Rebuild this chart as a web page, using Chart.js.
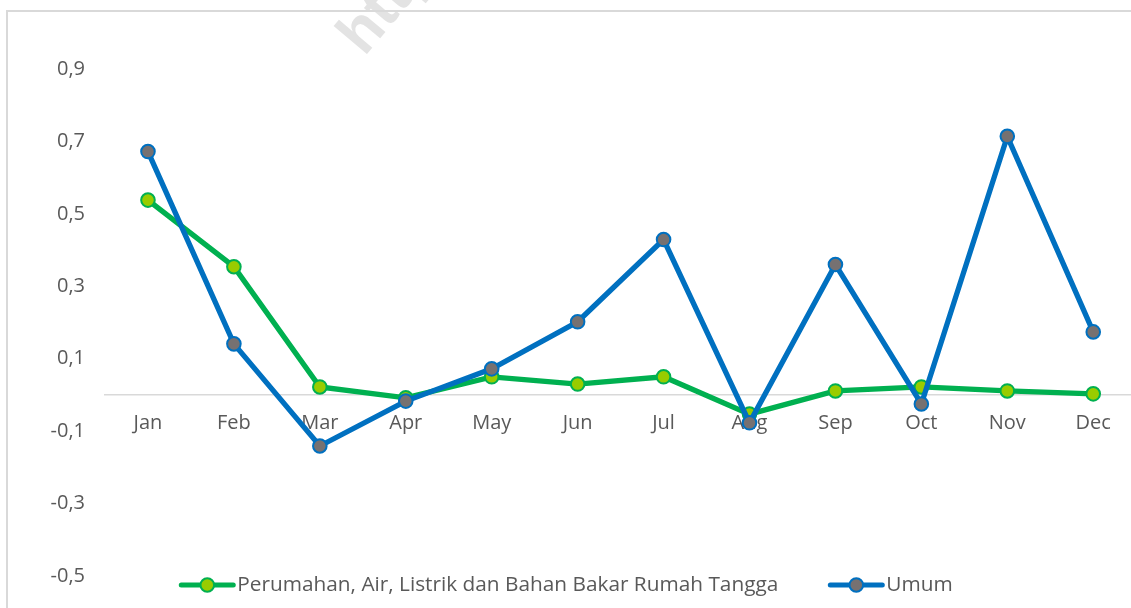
<!DOCTYPE html>
<html>
<head>
<meta charset="utf-8">
<script src="https://cdn.jsdelivr.net/npm/chart.js@4.4.1/dist/chart.umd.min.js"></script>
<style>
  html, body { margin: 0; padding: 0; background: #ffffff; overflow: hidden; }
  #wrap { position: relative; width: 1131px; height: 608px; overflow: hidden; }
  #wm { position: absolute; left: 326px; top: 25px; font: bold 60px "Liberation Sans", Arial, sans-serif;
        line-height: 1; color: #e3e3e3; transform: rotate(-50deg); transform-origin: 0 0; white-space: nowrap; }
  #box { position: absolute; left: 0; top: 0; width: 1145px; height: 608px; }
  #frame { position: absolute; left: 6px; top: 10px; width: 1200px; height: 700px;
           border-left: 2px solid #d9d9d9; border-top: 2px solid #d9d9d9; pointer-events: none; }
</style>
</head>
<body>
<div id="wrap">
  <div id="wm">http://</div>
  <div id="box"><canvas id="c" width="1145" height="608"></canvas></div>
  <div id="frame"></div>
</div>
<script>
// ---- data ----
const months = ['Jan','Feb','Mar','Apr','May','Jun','Jul','Aug','Sep','Oct','Nov','Dec'];
const perumahan = [0.538, 0.354, 0.022, -0.008, 0.050, 0.030, 0.050, -0.053, 0.011, 0.022, 0.011, 0.003];
const umum = [0.672, 0.141, -0.141, -0.017, 0.072, 0.202, 0.429, -0.077, 0.360, -0.025, 0.714, 0.174];
const yTicks = [-0.5, -0.3, -0.1, 0.1, 0.3, 0.5, 0.7, 0.9];
const seriesNames = ['Perumahan, Air, Listrik dan Bahan Bakar Rumah Tangga', 'Umum'];

const FONT = '"Open Sans", "Noto Sans", sans-serif';
const TXT = '#595959';

// custom legend (line + marker symbol, Excel style)
const excelLegend = {
  id: 'excelLegend',
  afterDraw(chart) {
    const ctx = chart.ctx;
    const order = [1, 0]; // Perumahan first, then Umum
    const symW = 56, gapText = 2, gapItem = 50, cy = 585, centerX = 566;
    ctx.save();
    ctx.font = '20.8px ' + FONT;
    ctx.textBaseline = 'middle';
    ctx.textAlign = 'left';
    const widths = order.map(i => symW + gapText + ctx.measureText(chart.data.datasets[i].label).width);
    const total = widths.reduce((a, b) => a + b, 0) + gapItem * (order.length - 1);
    let x = centerX - total / 2;
    order.forEach((i, k) => {
      const ds = chart.data.datasets[i];
      ctx.strokeStyle = ds.borderColor;
      ctx.lineWidth = 5;
      ctx.lineCap = 'round';
      ctx.beginPath(); ctx.moveTo(x + 2, cy); ctx.lineTo(x + symW - 2, cy); ctx.stroke();
      ctx.beginPath(); ctx.arc(x + symW / 2, cy, 6.8, 0, Math.PI * 2);
      ctx.fillStyle = ds.pointBackgroundColor; ctx.fill();
      ctx.lineWidth = 2; ctx.strokeStyle = ds.pointBorderColor; ctx.stroke();
      ctx.fillStyle = TXT;
      ctx.fillText(ds.label, x + symW + gapText, cy);
      x += widths[k] + gapItem;
    });
    ctx.restore();
  }
};

new Chart(document.getElementById('c'), {
  type: 'line',
  data: {
    labels: months,
    datasets: [
      {
        label: seriesNames[1], data: umum,
        borderColor: '#0070C0', borderWidth: 5.3, tension: 0,
        pointRadius: 6.8, pointBorderWidth: 2,
        pointBackgroundColor: '#767171', pointBorderColor: '#0070C0'
      },
      {
        label: seriesNames[0], data: perumahan,
        borderColor: '#00B050', borderWidth: 5.3, tension: 0,
        pointRadius: 6.8, pointBorderWidth: 2,
        pointBackgroundColor: '#99CC00', pointBorderColor: '#00B050'
      }
    ]
  },
  options: {
    responsive: false,
    animation: false,
    layout: { padding: { top: 69, bottom: 31, left: 0, right: 4 } },
    plugins: { legend: { display: false }, tooltip: { enabled: false } },
    scales: {
      x: {
        position: { y: 0 },
        offset: true,
        grid: { display: false, drawTicks: false },
        border: { display: true, color: '#d9d9d9', width: 1.5 },
        ticks: { color: TXT, font: { family: FONT, size: 20 }, padding: 16, maxRotation: 0, autoSkip: false }
      },
      y: {
        min: yTicks[0], max: yTicks[yTicks.length - 1],
        afterBuildTicks: (s) => { s.ticks = yTicks.map(v => ({ value: v })); },
        afterFit: (s) => { s.width = 105; },
        grid: { display: false, drawTicks: false },
        border: { display: false },
        ticks: {
          color: TXT, font: { family: FONT, size: 20 }, padding: 20,
          callback: (v) => v.toFixed(1).replace('.', ',')
        }
      }
    }
  },
  plugins: [excelLegend]
});
</script>
</body>
</html>
